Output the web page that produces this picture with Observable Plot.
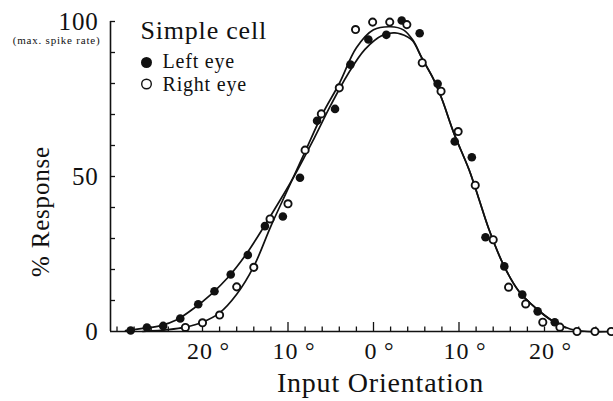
<!DOCTYPE html>
<html><head><meta charset="utf-8">
<script src="https://cdn.jsdelivr.net/npm/d3@7"></script>
<script src="https://cdn.jsdelivr.net/npm/@observablehq/plot@0.6"></script>
<style>body{margin:0;background:#fff} svg{display:block}</style>
</head><body><div id="chart"></div>
<script>
// Left eye (filled dots): orientation (deg), response (%)
const leftX = [-28.4,-26.5,-24.6,-22.6,-20.5,-18.6,-16.7,-14.7,-12.7,-10.6,-8.6,-6.6,-4.5,-2.7,-0.6,1.5,3.3,5.4,7.5,9.5,11.5,13.1,15.3,17.4,19.2,21.2];
const leftY = [0.3,1.3,1.8,4.2,8.8,13,18.4,24.7,34,37.1,49.6,68,71.8,86.1,94.2,95.7,100.3,96.2,79.9,61.3,56.2,30.4,21,11.9,6.5,3];
// Right eye (open dots)
const rightX = [-22,-20,-18,-16,-14,-12.1,-10,-8,-6.1,-4,-2.1,-0.1,1.9,3.9,5.7,7.9,9.9,11.9,14,15.8,17.8,19.8,21.8,23.8,25.9,27.8];
const rightY = [1.3,2.8,5.3,14.4,20.7,36.3,41.2,58.5,70.2,78.6,97.4,99.8,99.8,99,86.7,77.5,64.5,47.2,29.6,14.3,8.9,3,1.4,0,0,0];
// Fitted curves
const leftFitX = [-29,-27,-25,-23,-21,-19,-17,-15,-13,-11,-9,-7,-5,-3,-1,1,2.5,4,4.6,5.7,7,8,9.4,11.2,12.3,13.5,15.2,17,19,21,22.5];
const leftFitY = [0.3,1,1.8,3.8,7.5,12,17.5,24.5,33,42,51.5,62,73,83,91,95.5,96.3,95,93.7,88,81.5,75,64,52,43,33,21.5,13,7.5,3.3,1.2];
const rightFitX = [-27,-24,-22,-20,-18,-16,-14,-12,-10,-8,-6,-4,-2,0,2,3.5,4.6,5.7,7,8,9.4,11.2,12.3,13.5,15.2,17,19,21,23,25,28.1];
const rightFitY = [0,0.6,1.4,3,6,12,21,34,46,58,70,80,91.5,97.3,98.3,97.3,94,88,81.5,75,64,52,43,33,21.5,13,7.5,3.3,0.8,0,0];
// Axis ticks
const xLabelTicks = [-20,-10,0,10,20];
const xMajorTicks = [-10,0,10];
const xMinorTicks = [-30,-28,-26,-24,-22,-20,-18,-16,-14,-12,-8,-6,-4,-2,2,4,6,8,12,14,16,18,20,22,24,26];
const yLabelTicks = [0,50,100];
const yMinorTicks = [10,20,30,40,50,60,70,80,90,100];
const xDomain = [-30.76, 28.07];
const yDomain = [0, 100];

const left = leftX.map((x,i)=>({x, y: leftY[i]}));
const right = rightX.map((x,i)=>({x, y: rightY[i]}));
const leftFit = leftFitX.map((x,i)=>({x, y: leftFitY[i]}));
const rightFit = rightFitX.map((x,i)=>({x, y: rightFitY[i]}));

const W = 613, H = 401, mL = 110, mR = 0, mT = 21, mB = 70;
const plotW = W - mL - mR, plotH = H - mT - mB;
const ink = "#111";
const font = "'Liberation Serif', 'Times New Roman', serif";

const chart = Plot.plot({
  width: W, height: H,
  marginLeft: mL, marginRight: mR, marginTop: mT, marginBottom: mB,
  style: {fontFamily: font, background: "#fff", color: ink, letterSpacing: "0.8px", overflow: "hidden"},
  x: {domain: xDomain, axis: null},
  y: {domain: yDomain, axis: null},
  marks: [
    Plot.ruleX([xDomain[0]], {stroke: ink, strokeWidth: 1.6}),
    Plot.ruleY([0], {stroke: ink, strokeWidth: 1.6}),
    Plot.tickY(yMinorTicks, {y: d => d, insetRight: plotW - 5, stroke: ink, strokeWidth: 1.3}),
    Plot.tickX(xMinorTicks, {x: d => d, insetTop: plotH - 4.5, stroke: ink, strokeWidth: 1.3}),
    Plot.tickX(xMajorTicks, {x: d => d, insetTop: plotH - 9, stroke: ink, strokeWidth: 1.3}),
    Plot.axisY({ticks: yLabelTicks, tickSize: 0, tickPadding: 12, fontSize: 25, label: null}),
    Plot.axisX({ticks: xLabelTicks, tickSize: 0, tickPadding: 10, fontSize: 24, dx: 6,
      tickFormat: d => Math.abs(d) + " °", label: null}),
    Plot.line(leftFit, {x: "x", y: "y", curve: "catmull-rom", stroke: ink, strokeWidth: 1.7}),
    Plot.line(rightFit, {x: "x", y: "y", curve: "catmull-rom", stroke: ink, strokeWidth: 1.7}),
    Plot.dot(left, {x: "x", y: "y", r: 4.3, fill: ink, stroke: "none"}),
    Plot.dot(right, {x: "x", y: "y", r: 3.6, fill: "#fff", stroke: ink, strokeWidth: 1.9}),
    // y-axis annotation
    Plot.text(["(max. spike rate)"], {frameAnchor: "top-left", dx: -10, dy: 19, textAnchor: "end", lineAnchor: "middle", fontSize: 11}),
    // axis titles
    Plot.text(["% Response"], {frameAnchor: "left", rotate: -90, dx: -70, dy: 35, textAnchor: "middle", lineAnchor: "middle", fontSize: 25}),
    Plot.text(["Input Orientation"], {frameAnchor: "bottom", dx: 18.5, dy: 52, textAnchor: "middle", lineAnchor: "middle", fontSize: 28}),
    // legend
    Plot.text(["Simple cell"], {frameAnchor: "top-left", dx: 30, dy: 8.7, textAnchor: "start", lineAnchor: "middle", fontSize: 26}),
    Plot.dot([0], {frameAnchor: "top-left", dx: 36, dy: 41, r: 5.5, fill: ink, stroke: "none"}),
    Plot.text(["Left eye"], {frameAnchor: "top-left", dx: 52, dy: 39.6, textAnchor: "start", lineAnchor: "middle", fontSize: 20}),
    Plot.dot([0], {frameAnchor: "top-left", dx: 36, dy: 62.5, r: 4.8, fill: "#fff", stroke: ink, strokeWidth: 1.4}),
    Plot.text(["Right eye"], {frameAnchor: "top-left", dx: 52, dy: 62.6, textAnchor: "start", lineAnchor: "middle", fontSize: 20})
  ]
});
document.getElementById("chart").appendChild(chart);
</script>
</body></html>
